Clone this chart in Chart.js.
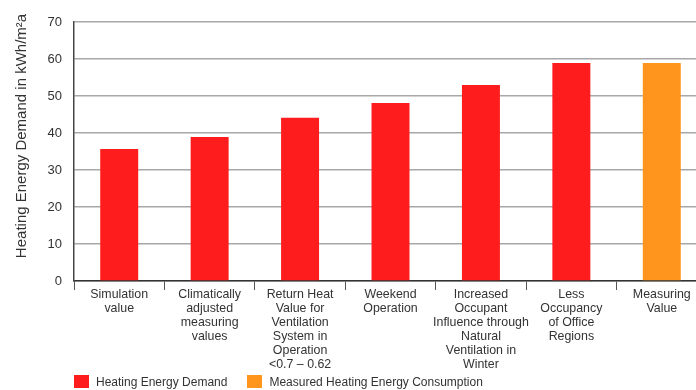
<!DOCTYPE html>
<html>
<head>
<meta charset="utf-8">
<script src="https://cdn.jsdelivr.net/npm/chart.js@4/dist/chart.umd.min.js"></script>
<style>
html,body{margin:0;padding:0;background:#fff;overflow:hidden;width:696px;height:390px;}
#wrap{position:relative;width:710px;height:390px;}
#legend{position:absolute;left:74px;top:375px;font:12px "Liberation Sans",Arial,sans-serif;color:#333;white-space:nowrap;}
#legend span.box{display:inline-block;width:15px;height:13px;vertical-align:-2px;margin-right:7px;}
#legend span.item{margin-right:11px;}
</style>
</head>
<body>
<div id="wrap">
<canvas id="c" width="710" height="390"></canvas>
<div id="legend"></div>
</div>
<script>
const categories = [
  ["Simulation","value"],
  ["Climatically","adjusted","measuring","values"],
  ["Return Heat","Value for","Ventilation","System in","Operation","<0.7 \u2013 0.62"],
  ["Weekend","Operation"],
  ["Increased","Occupant","Influence through","Natural","Ventilation in","Winter"],
  ["Less","Occupancy","of Office","Regions"],
  ["Measuring","Value"]
];
const demandValues = [35.7, 38.9, 44.1, 48.1, 53.0, 58.9, null];
const measuredValues = [null, null, null, null, null, null, 58.9];
const seriesNames = ["Heating Energy Demand", "Measured Heating Energy Consumption"];
const yTitle = "Heating Energy Demand in kWh/m\u00b2a";
const colors = ["#ff1c1c", "#ff951c"];

const FONT = "'Liberation Sans', Arial, sans-serif";

const yTitlePlugin = {
  id: 'yTitle',
  afterDraw(chart) {
    const ctx = chart.ctx;
    ctx.save();
    ctx.translate(22, 136);
    ctx.rotate(-Math.PI / 2);
    ctx.fillStyle = '#333';
    ctx.font = "15px " + FONT;
    ctx.textAlign = 'center';
    ctx.textBaseline = 'middle';
    ctx.fillText(yTitle, 0, 0);
    ctx.restore();
  }
};

new Chart(document.getElementById('c'), {
  type: 'bar',
  data: {
    labels: categories,
    datasets: [
      {label: seriesNames[0], data: demandValues, backgroundColor: colors[0], categoryPercentage: 1, barPercentage: 0.42},
      {label: seriesNames[1], data: measuredValues, backgroundColor: colors[1], categoryPercentage: 1, barPercentage: 0.42}
    ]
  },
  plugins: [yTitlePlugin],
  options: {
    responsive: false,
    animation: false,
    layout: {padding: {top: 22, right: 3, left: 0, bottom: 0}},
    plugins: {legend: {display: false}, tooltip: {enabled: false}},
    scales: {
      x: {
        stacked: true,
        afterFit: s => { s.height = 109; },
        grid: {offset: true, drawOnChartArea: false, drawTicks: true, tickLength: 9, color: '#555', lineWidth: 1},
        border: {color: '#333', width: 1.5},
        ticks: {maxRotation: 0, autoSkip: false, padding: -2, color: '#333', font: {family: FONT, size: 12.4, lineHeight: 1.12}}
      },
      y: {
        stacked: true,
        min: 0, max: 70,
        afterFit: s => { s.width = 74; },
        grid: {color: '#a8a8a8', lineWidth: 1.5, drawTicks: false},
        border: {color: '#444', width: 1.5},
        ticks: {stepSize: 10, padding: 12, color: '#333', font: {family: FONT, size: 13}}
      }
    }
  }
});

const lg = document.getElementById('legend');
seriesNames.forEach((n, i) => {
  const it = document.createElement('span');
  it.className = 'item';
  const b = document.createElement('span');
  b.className = 'box';
  b.style.background = colors[i];
  it.appendChild(b);
  it.appendChild(document.createTextNode(n));
  lg.appendChild(it);
  if (i === 0) { it.style.marginRight = '20px'; }
});
</script>
</body>
</html>
